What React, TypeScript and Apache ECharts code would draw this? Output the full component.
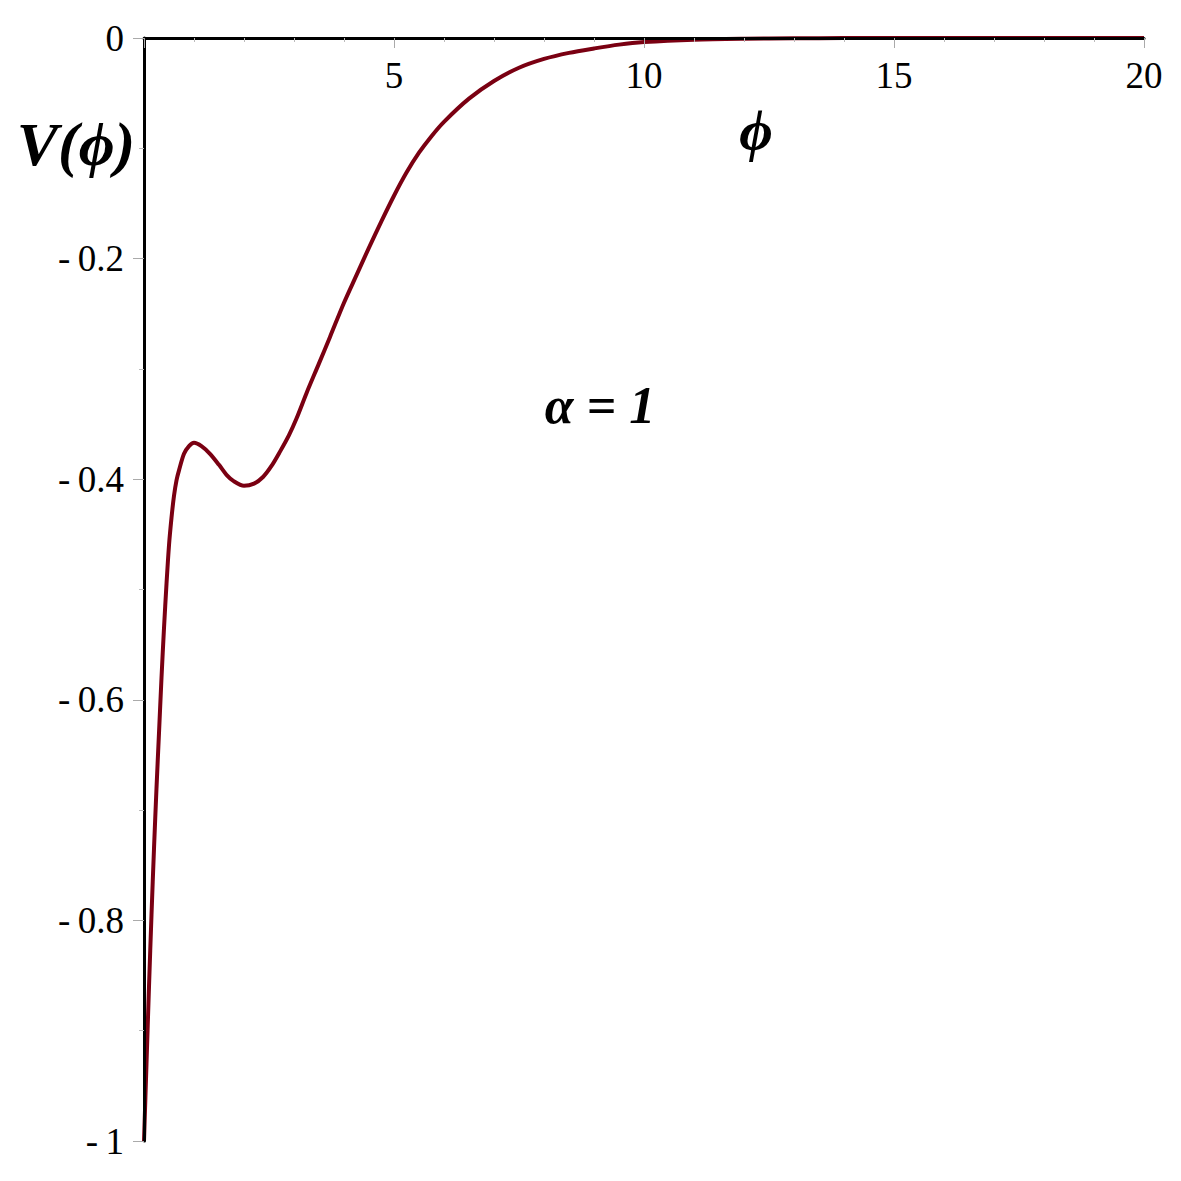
import React, { useEffect, useRef } from "react";
import * as echarts from "echarts";

const phiValues = [
  0, 0.05, 0.1, 0.15, 0.2, 0.25, 0.3, 0.35, 0.4, 0.45, 0.5, 0.55, 0.6, 0.65, 0.7, 0.8, 0.9, 1.0,
  1.15, 1.32, 1.5, 1.65, 1.8, 2.0, 2.2, 2.38, 2.55, 2.72, 2.9, 3.05, 3.25, 3.5, 3.72, 4.0, 4.25,
  4.5, 4.75, 5.0, 5.25, 5.5, 5.75, 6.0, 6.5, 7.0, 7.5, 8.0, 8.5, 9.0, 9.5, 10.0, 11, 12, 13, 14,
  16, 20,
];
const vValues = [
  -1, -0.93, -0.86, -0.795, -0.735, -0.68, -0.63, -0.58, -0.535, -0.495, -0.46, -0.435, -0.415,
  -0.401, -0.392, -0.377, -0.37, -0.367, -0.37, -0.377, -0.387, -0.396, -0.402, -0.406, -0.404,
  -0.398, -0.388, -0.375, -0.36, -0.345, -0.322, -0.295, -0.271, -0.24, -0.215, -0.19, -0.166,
  -0.143, -0.122, -0.104, -0.089, -0.076, -0.055, -0.039, -0.027, -0.019, -0.0135, -0.0095,
  -0.006, -0.0037, -0.0015, -0.0006, -0.0002, -0.0001, 0, 0,
];

const xTicks = { min: 0, max: 20, interval: 5 };
const yTicks = { min: -1, max: 0, interval: 0.2 };

const yAxisTitle = "V(\u03D5)";
const xAxisTitle = "\u03D5";
const annotation = "\u03B1 = 1";

const SERIF = "'Liberation Serif', 'Times New Roman', serif";

export default function App() {
  const ref = useRef<HTMLDivElement>(null);
  useEffect(() => {
    const chart = echarts.init(ref.current!, undefined, { renderer: "svg" });
    const titleStyle = {
      fontFamily: SERIF,
      fontStyle: "italic",
      fontWeight: "bold",
      fill: "#000",
      align: "center",
      verticalAlign: "middle",
    };
    chart.setOption({
      animation: false,
      backgroundColor: "#ffffff",
      grid: { left: 144, right: 37, top: 38, bottom: 40, containLabel: false },
      xAxis: {
        type: "value",
        position: "top",
        min: xTicks.min,
        max: xTicks.max,
        interval: xTicks.interval,
        z: 5,
        axisLine: { show: true, onZero: false, lineStyle: { color: "#000", width: 3 } },
        axisTick: { show: true, inside: true, length: 10, lineStyle: { color: "#aaa", width: 1 } },
        minorTick: { show: true, splitNumber: 5, length: 4, lineStyle: { color: "#bbb", width: 1 } },
        splitLine: { show: false },
        axisLabel: {
          inside: true,
          margin: 19,
          fontFamily: SERIF,
          fontSize: 37,
          color: "#000",
          formatter: (v: number) => (v === 0 ? "" : String(v)),
        },
      },
      yAxis: {
        type: "value",
        min: yTicks.min,
        max: yTicks.max,
        interval: yTicks.interval,
        z: 5,
        axisLine: { show: true, onZero: false, lineStyle: { color: "#000", width: 3 } },
        axisTick: { show: true, inside: false, length: 11, lineStyle: { color: "#aaa", width: 1 } },
        minorTick: { show: true, splitNumber: 2, length: 5, lineStyle: { color: "#bbb", width: 1 } },
        splitLine: { show: false },
        axisLabel: {
          margin: 20,
          fontFamily: SERIF,
          fontSize: 37,
          color: "#000",
          formatter: (v: number) => {
            if (Math.abs(v) < 1e-9) return "0";
            const a = parseFloat(Math.abs(v).toFixed(1));
            return (v < 0 ? "-\u2009" : "") + String(a);
          },
        },
      },
      series: [
        {
          type: "line",
          data: phiValues.map((p, i) => [p, vValues[i]]),
          showSymbol: false,
          smooth: 0.3,
          clip: false,
          z: 2,
          lineStyle: { color: "#7a0012", width: 4 },
        },
      ],
      graphic: [
        { type: "text", x: 76, y: 144, style: { ...titleStyle, text: yAxisTitle, fontSize: 62 } },
        { type: "text", x: 756, y: 130, style: { ...titleStyle, text: xAxisTitle, fontSize: 58 } },
        { type: "text", x: 600, y: 405, style: { ...titleStyle, text: annotation, fontSize: 52 } },
      ],
    });
    return () => chart.dispose();
  }, []);
  return (
    <div
      ref={ref}
      style={{ position: "fixed", left: 0, top: 0, width: 1181, height: 1181, background: "#fff" }}
    />
  );
}
